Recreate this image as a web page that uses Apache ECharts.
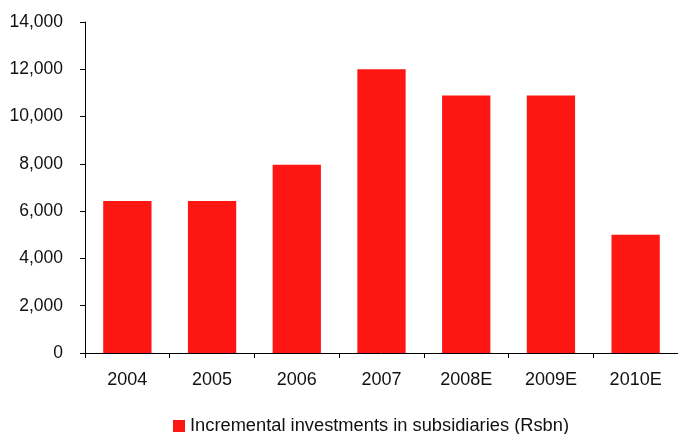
<!DOCTYPE html>
<html>
<head>
<meta charset="utf-8">
<script src="https://cdn.jsdelivr.net/npm/echarts@6/dist/echarts.min.js"></script>
<style>
  html, body { margin: 0; padding: 0; background: #ffffff; }
  #chart { width: 678px; height: 434px; }
</style>
</head>
<body>
<div id="chart"></div>
<script>
// Incremental investments in subsidiaries, Rs bn
const years = ['2004', '2005', '2006', '2007', '2008E', '2009E', '2010E'];
const investments = [6430, 6430, 7960, 12000, 10890, 10890, 5000];
const seriesName = 'Incremental investments in subsidiaries (Rsbn)';
const yTicks = { min: 0, max: 14000, interval: 2000 };

const font = 'Liberation Sans, Arial, sans-serif';
const chart = echarts.init(document.getElementById('chart'), null, { renderer: 'canvas' });

chart.setOption({
  animation: false,
  backgroundColor: '#ffffff',
  grid: { left: 85, right: -1, top: 22, bottom: 81, containLabel: false },
  legend: {
    data: [seriesName],
    left: 168,
    top: 412,
    icon: 'rect',
    itemWidth: 12,
    itemHeight: 12,
    itemGap: 10,
    textStyle: { fontFamily: font, fontSize: 18.3, color: '#111111' }
  },
  xAxis: {
    type: 'category',
    data: years,
    axisLine: { lineStyle: { color: '#000000', width: 1 } },
    axisTick: { show: true, length: 5, lineStyle: { color: '#000000' } },
    axisLabel: { fontFamily: font, fontSize: 18, color: '#111111', margin: 18 },
    splitLine: { show: false }
  },
  yAxis: {
    type: 'value',
    min: yTicks.min,
    max: yTicks.max,
    interval: yTicks.interval,
    axisLine: { show: true, lineStyle: { color: '#000000', width: 1 } },
    axisTick: { show: true, length: 5, lineStyle: { color: '#000000' } },
    axisLabel: {
      fontFamily: font, fontSize: 17.5, color: '#111111', margin: 22,
      formatter: v => v.toLocaleString('en-US')
    },
    splitLine: { show: false }
  },
  series: [{
    name: seriesName,
    type: 'bar',
    data: investments,
    barWidth: '57%',
    itemStyle: { color: '#fe1612' }
  }]
});
</script>
</body>
</html>
